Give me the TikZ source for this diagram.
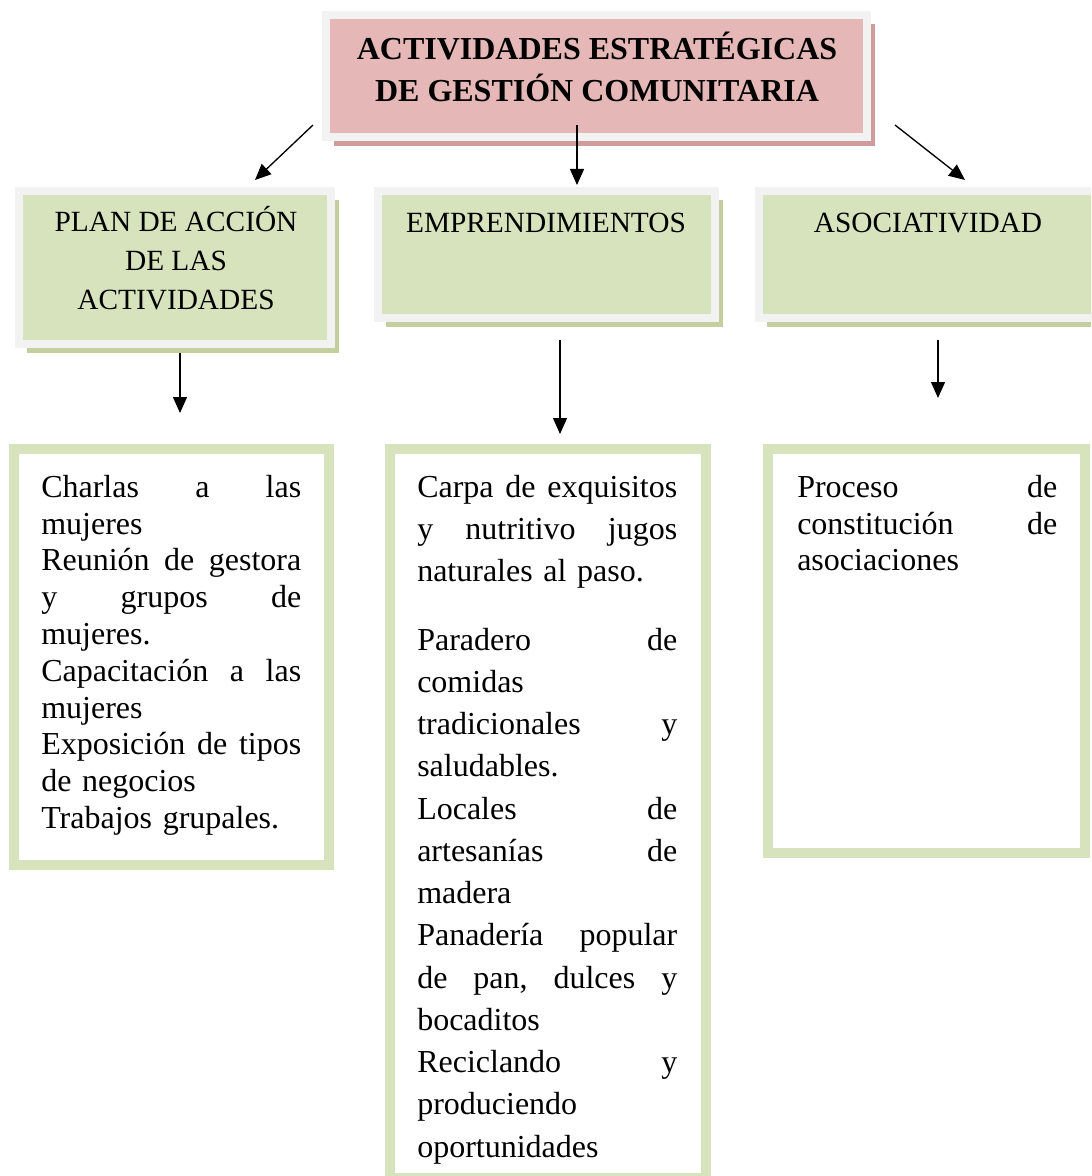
\documentclass[tikz,border=0pt]{standalone}
\usepackage{fontspec}
\setmainfont{Liberation Serif}
\usetikzlibrary{arrows.meta,fit,shadows}

\definecolor{pinkfill}{HTML}{E5B8B7}
\definecolor{pinkshade}{HTML}{D09B9B}
\definecolor{greenfill}{HTML}{D7E3BC}
\definecolor{greenshade}{HTML}{C3CF9F}
\definecolor{framegrey}{HTML}{F2F2F2}

\tikzset{
  framed/.style={draw=framegrey, line width=6pt, inner sep=0pt},
  headbox/.style={framed, fill=greenfill,
    drop shadow={shadow xshift=6pt, shadow yshift=-7pt, fill=greenshade, opacity=1}},
  titlebox/.style={framed, fill=pinkfill,
    drop shadow={shadow xshift=6pt, shadow yshift=-7pt, fill=pinkshade, opacity=1}},
  listbox/.style={draw=greenfill, line width=7pt, fill=white, inner sep=0pt},
  innerline/.style={draw=greenfill, line width=1.2pt},
  titletext/.style={anchor=north, inner sep=0pt, align=center,
    font=\bfseries\fontsize{24pt}{31.7pt}\selectfont},
  headtext/.style={anchor=north, inner sep=0pt, align=center,
    font=\fontsize{22pt}{29.25pt}\selectfont},
  listtext/.style={anchor=north west, inner sep=0pt, text width=195pt, align=left,
    font=\fontsize{24pt}{27.6pt}\selectfont},
  arr/.style={-{Triangle[length=12pt,width=10.5pt]}, line width=1pt},
}

\begin{document}
\begin{tikzpicture}[x=0.75pt, y=-0.75pt]
 \clip (0,0) rectangle (1091,1176);

 % top box
 \node[titlebox, fit={(326,15) (867,137)}] (title) {};
 \node[titletext] (titlet) at (597,29.4) {\strut ACTIVIDADES ESTRATÉGICAS\\DE GESTIÓN COMUNITARIA};

 % second row
 \node[headbox, fit={(19,191) (331,344)}] (plan) {};
 \node[headbox, fit={(378,191) (715,318)}] (empr) {};
 \node[headbox, fit={(759,191) (1100,318)}] (asoc) {};
 \node[headtext] (plant) at (176,203.7) {\strut PLAN DE ACCIÓN\\DE LAS\\ACTIVIDADES};
 \node[headtext] (emprt) at (546,205) {\strut EMPRENDIMIENTOS};
 \node[headtext] (asoct) at (928,205) {\strut ASOCIATIVIDAD};

 % lists
 \node[listbox, fit={(14,449) (329,865)}] (plist) {};
 \node[listbox, fit={(390,449) (706,1178)}] (elist) {};
 \node[listbox, fit={(768,449) (1085,853)}] (alist) {};
 \foreach \n in {plist,elist,alist}
   \draw[innerline] ([shift={(9,9)}]\n.north west) rectangle ([shift={(-9,-9)}]\n.south east);

 \node[listtext] (plistt) at (41,471.2) {\strut Charlas\hfill a\hfill las\\
   mujeres\\
   Reunión\hfill de\hfill gestora\\
   y\hfill grupos\hfill de\\
   mujeres.\\
   Capacitación\hfill a\hfill las\\
   mujeres\\
   Exposición\hfill de\hfill tipos\\
   de negocios\\
   Trabajos grupales.};

 \node[listtext, font=\fontsize{24pt}{31.7pt}\selectfont] (elistt) at (417,467.4) {\strut Carpa\hfill de\hfill exquisitos\\
   y\hfill nutritivo\hfill jugos\\
   naturales al paso.\\[19.5pt]
   Paradero\hfill de\\
   comidas\\
   tradicionales\hfill y\\
   saludables.\\
   Locales\hfill de\\
   artesanías\hfill de\\
   madera\\
   Panadería\hfill popular\\
   de\hfill pan,\hfill dulces\hfill y\\
   bocaditos\\
   Reciclando\hfill y\\
   produciendo\\
   oportunidades};

 \node[listtext] (alistt) at (797,471.2) {\strut Proceso\hfill de\\
   constitución\hfill de\\
   asociaciones};

 % arrows
 \coordinate (a1) at (313,125); \coordinate (b1) at (255,180);
 \coordinate (a2) at (577,125); \coordinate (b2) at (577,185);
 \coordinate (a3) at (895,125); \coordinate (b3) at (965,180);
 \coordinate (a4) at (180,353); \coordinate (b4) at (180,413);
 \coordinate (a5) at (560,340); \coordinate (b5) at (560,434);
 \coordinate (a6) at (938,340); \coordinate (b6) at (938,398);
 \foreach \i in {1,...,6}
   \draw[arr] (a\i) -- (b\i);
\end{tikzpicture}
\end{document}
